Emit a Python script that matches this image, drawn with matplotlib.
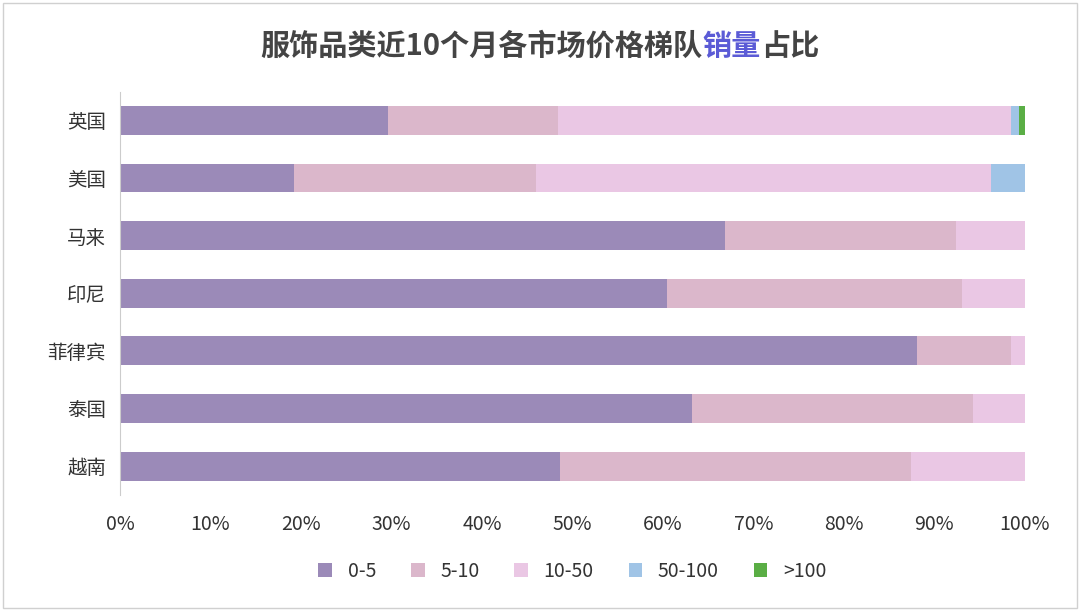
import matplotlib
matplotlib.use("Agg")
import matplotlib.pyplot as plt
from matplotlib.ticker import PercentFormatter
from matplotlib.patches import Rectangle

plt.rcParams["font.family"] = ["Noto Sans CJK SC", "DejaVu Sans"]

categories = ["英国", "美国", "马来", "印尼", "菲律宾", "泰国", "越南"]
series_names = ["0-5", "5-10", "10-50", "50-100", ">100"]
s0_5 = [29.6, 19.2, 66.9, 60.4, 88.1, 63.2, 48.6]
s5_10 = [18.8, 26.8, 25.5, 32.6, 10.4, 31.1, 38.8]
s10_50 = [50.1, 50.2, 7.6, 7.0, 1.5, 5.7, 12.6]
s50_100 = [0.8, 3.8, 0, 0, 0, 0, 0]
s100 = [0.7, 0, 0, 0, 0, 0, 0]
colors = ["#9b8ab8", "#dbb7cb", "#eac7e4", "#a0c4e6", "#5aae45"]

fig = plt.figure(figsize=(10.8, 6.11), dpi=100)
fig.patches.append(Rectangle((0.003, 0.005), 0.994, 0.99, transform=fig.transFigure,
                             fill=False, ec="#d0d0d0", lw=1))
ax = fig.add_axes([0.111, 0.19, 0.838, 0.66])
y = list(range(len(categories)))
left = [0] * len(categories)
for name, vals, c in zip(series_names, [s0_5, s5_10, s10_50, s50_100, s100], colors):
    ax.barh(y, vals, left=left, color=c, height=0.5, label=name)
    left = [a + b for a, b in zip(left, vals)]
ax.set_xlim(0, 100)
ax.set_ylim(len(categories) - 0.5, -0.5)
ax.set_yticks(y)
ax.set_yticklabels(categories, fontsize=14, color="#333333")
ax.set_xticks(range(0, 101, 10))
ax.xaxis.set_major_formatter(PercentFormatter(decimals=0))
ax.tick_params(axis="x", labelsize=14, colors="#333333", length=0, pad=14)
ax.tick_params(axis="y", length=0, pad=10)
for s in ["top", "right", "bottom"]:
    ax.spines[s].set_visible(False)
ax.spines["left"].set_color("#cccccc")
ax.legend(loc="upper center", bbox_to_anchor=(0.5, -0.12), ncol=5, frameon=False,
          fontsize=14, handlelength=0.7, handleheight=0.7, columnspacing=1.8,
          labelcolor="#333333")

parts = [("服饰品类近10个月各市场价格梯队", "#444444"), ("销量", "#5b5bd6"), ("占比", "#444444")]
fig.canvas.draw()
r = fig.canvas.get_renderer()
texts = []
for t, c in parts:
    texts.append(fig.text(0, 0.925, t, fontsize=21, fontweight="bold", color=c, va="center"))
widths = [tx.get_window_extent(r).width for tx in texts]
x = (1080 - sum(widths)) / 2
for tx, w in zip(texts, widths):
    tx.set_x(x / 1080)
    x += w
fig.savefig("out.png", dpi=100)
